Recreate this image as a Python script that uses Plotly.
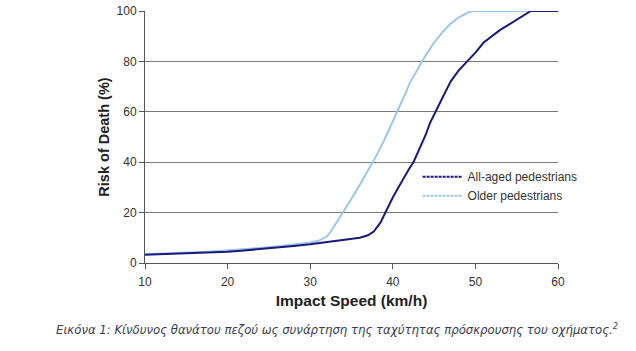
import plotly.graph_objects as go

# Data
speed_all = [10, 12, 14, 16, 18, 20, 22, 24, 26, 28, 30, 32, 34, 36, 37, 37.7, 38.5, 39, 39.5, 40,
             40.5, 41, 41.5, 42, 42.5, 43, 43.5, 44, 44.5, 45, 45.5, 46, 47, 48, 49, 50, 51, 52,
             53, 54, 55, 56, 56.7, 58, 60]
risk_all = [3.3, 3.5, 3.7, 3.9, 4.1, 4.5, 5.0, 5.5, 6.0, 6.7, 7.4, 8.2, 9.0, 10.0, 11.0, 12.5, 16, 19.5, 23, 26,
            29, 32, 35, 37.5, 40, 43.5, 47, 51, 55.5, 59, 62, 65.5, 72, 76.5, 80, 83.5, 87.5, 90,
            92.5, 94.5, 96.5, 98.5, 100, 100, 100]

speed_old = [10, 12, 14, 16, 18, 20, 22, 24, 26, 28, 30, 31, 32, 32.5, 33, 33.5, 34, 35, 36, 37, 38, 39,
             40, 40.5, 41, 41.5, 42, 42.5, 43, 43.6, 44, 45, 46, 47, 48, 49, 49.6, 60]
risk_old = [3.5, 3.7, 4.0, 4.3, 4.6, 5.0, 5.5, 6.0, 6.6, 7.3, 8.1, 8.8, 10.5, 12.5, 15, 17.5, 20, 25.5, 31, 36.5, 42.5, 49,
            56.5, 60, 63.5, 67, 71, 74, 77, 80, 82.5, 87.5, 91.5, 95, 97.5, 99.2, 100, 100]

series_names = ["All-aged pedestrians", "Older pedestrians"]
x_ticks = [10, 20, 30, 40, 50, 60]
y_ticks = [0, 20, 40, 60, 80, 100]
caption = "Εικόνα 1: Κίνδυνος θανάτου πεζού ως συνάρτηση της ταχύτητας πρόσκρουσης του οχήματος.<sup>2</sup>"

DARK = "#1a1a7c"
LIGHT = "#9cc6ec"
FONT = "Liberation Sans, Arial, sans-serif"

fig = go.Figure()
fig.add_trace(go.Scatter(x=speed_old, y=risk_old, mode="lines", line=dict(color=LIGHT, width=2),
                         showlegend=False, hoverinfo="skip"))
fig.add_trace(go.Scatter(x=speed_all, y=risk_all, mode="lines", line=dict(color=DARK, width=2),
                         showlegend=False, hoverinfo="skip"))
# legend entries (dashed samples as in the reference)
fig.add_trace(go.Scatter(x=[None], y=[None], mode="lines", name=series_names[0],
                         line=dict(color=DARK, width=2, dash="3px,1px")))
fig.add_trace(go.Scatter(x=[None], y=[None], mode="lines", name=series_names[1],
                         line=dict(color=LIGHT, width=2, dash="3px,1px")))

fig.update_layout(
    width=636, height=351,
    margin=dict(l=145, r=78, t=11, b=88),
    paper_bgcolor="white", plot_bgcolor="white",
    font=dict(family=FONT, size=12, color="#333333"),
    showlegend=True,
    legend=dict(x=0.66, y=0.40, xanchor="left", yanchor="top",
                bgcolor="rgba(0,0,0,0)", font=dict(size=12, color="#333333"),
                itemwidth=40, tracegroupgap=0),
    xaxis=dict(range=[10, 60], tickvals=x_ticks, ticktext=[str(v) for v in x_ticks],
               automargin=False,
               showgrid=False, zeroline=False, showline=True, linecolor="#555555", linewidth=1,
               ticks="outside", ticklen=5, tickcolor="#555555", ticklabelstandoff=3,
               title=dict(text="<b>Impact Speed (km/h)</b>", font=dict(size=15.5, color="#222222"), standoff=6)),
    yaxis=dict(range=[0, 100], tickvals=y_ticks, ticktext=[str(v) for v in y_ticks],
               automargin=False,
               showgrid=True, gridcolor="#7a7a7a", gridwidth=1, zeroline=False,
               showline=True, linecolor="#555555", linewidth=1,
               ticks="outside", ticklen=5, tickcolor="#555555",
               title=dict(text="<b>Risk of Death (%)</b>", font=dict(size=14.5, color="#222222"), standoff=3)),
)
fig.add_annotation(text="<i>" + caption + "</i>", xref="paper", yref="paper",
                   x=(337 - 145) / 413, y=0, yshift=-56, xanchor="center", yanchor="top", showarrow=False,
                   font=dict(family="DejaVu Sans, sans-serif", size=11.7, color="#3c3c50"))

fig.write_html("out.html")
